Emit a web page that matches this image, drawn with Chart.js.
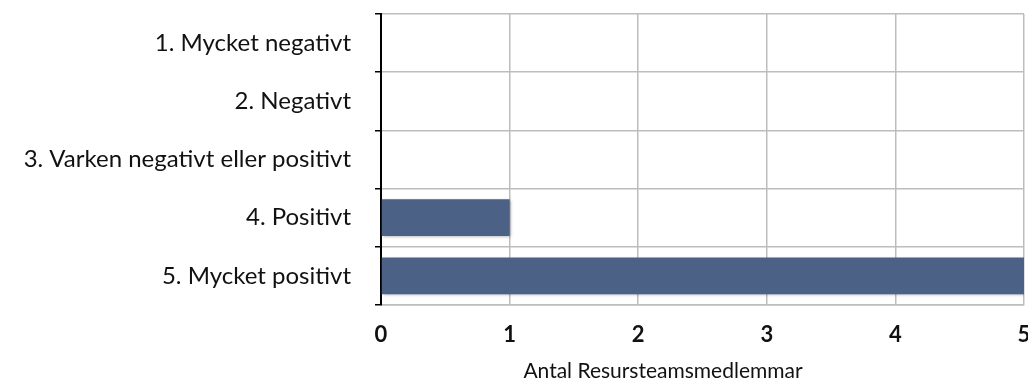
<!DOCTYPE html>
<html>
<head>
<meta charset="utf-8">
<script src="https://cdn.jsdelivr.net/npm/chart.js@4.4.0/dist/chart.umd.min.js"></script>
<style>
html,body{margin:0;padding:0;background:#fff;}
#wrap{width:1028px;height:392px;position:relative;}
</style>
</head>
<body>
<div id="wrap"><canvas id="c" width="1028" height="392"></canvas></div>
<script>
const categories = ["1. Mycket negativt", "2. Negativt", "3. Varken negativt eller positivt", "4. Positivt", "5. Mycket positivt"];
const values = [0, 0, 0, 1, 5];
const xTicks = [0, 1, 2, 3, 4, 5];
const xTitle = "Antal Resursteamsmedlemmar";

const shadowPlugin = {
  id: 'barShadow',
  beforeDatasetDraw(chart) {
    const ctx = chart.ctx;
    ctx.save();
    ctx.shadowColor = 'rgba(0,0,0,0.35)';
    ctx.shadowBlur = 3;
    ctx.shadowOffsetX = 1;
    ctx.shadowOffsetY = 1;
  },
  afterDatasetDraw(chart) {
    chart.ctx.restore();
  }
};

const titlePlugin = {
  id: 'xTitle',
  afterDraw(chart) {
    const ctx = chart.ctx;
    ctx.save();
    ctx.font = '21px Lato';
    ctx.fillStyle = '#111';
    ctx.textAlign = 'center';
    ctx.textBaseline = 'middle';
    ctx.fillText(xTitle, 663, 371);
    ctx.restore();
  }
};

new Chart(document.getElementById('c'), {
  type: 'bar',
  data: {
    labels: categories,
    datasets: [{
      data: values,
      backgroundColor: '#4b6186',
      borderWidth: 0,
      categoryPercentage: 1,
      barPercentage: 0.63
    }]
  },
  plugins: [shadowPlugin, titlePlugin],
  options: {
    indexAxis: 'y',
    responsive: false,
    animation: false,
    layout: { padding: { top: 14, right: 4, left: 0, bottom: 0 } },
    plugins: { legend: { display: false }, tooltip: { enabled: false } },
    scales: {
      x: {
        min: 0, max: 5,
        afterBuildTicks(scale) { scale.ticks = xTicks.map(v => ({ value: v })); },
        afterFit(scale) {
          scale.height = 87;
          scale.paddingLeft = 0; scale.paddingRight = 0;
          scale.paddingTop = 0; scale.paddingBottom = 0;
        },
        grid: { color: '#bdbdbd', lineWidth: 1.5, drawTicks: false },
        border: { display: true, color: '#bdbdbd', width: 1.5 },
        ticks: {
          padding: 17,
          color: '#111',
          font: { family: 'Lato', size: 22, weight: 'bold' }
        }
      },
      y: {
        afterFit(scale) {
          scale.width = 381;
          scale.paddingTop = 0; scale.paddingBottom = 0;
          scale.paddingLeft = 0; scale.paddingRight = 0;
        },
        grid: { offset: true, color: '#bdbdbd', lineWidth: 1.5, drawTicks: true, tickLength: 6, tickColor: '#000' },
        border: { display: true, color: '#000', width: 2 },
        ticks: {
          padding: 24,
          color: '#111',
          font: { family: 'Lato', size: 24 }
        }
      }
    }
  }
});
</script>
</body>
</html>
